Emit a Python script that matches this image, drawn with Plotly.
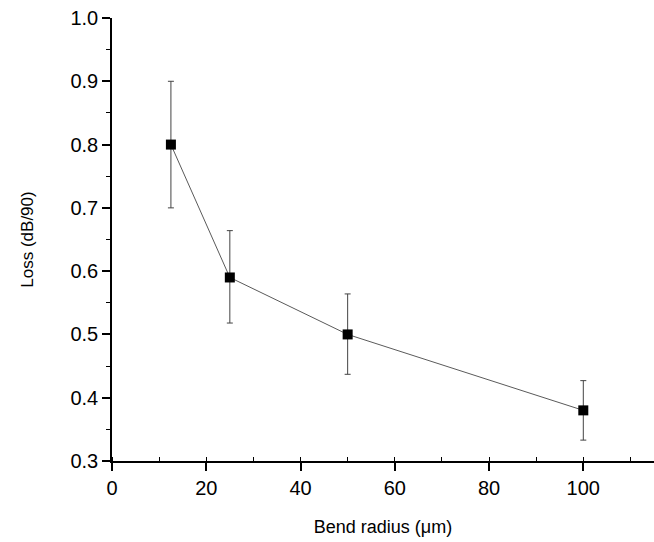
import plotly.graph_objects as go

bend_radius = [12.5, 25, 50, 100]
loss = [0.80, 0.59, 0.50, 0.38]
err_plus = [0.10, 0.074, 0.064, 0.047]
err_minus = [0.10, 0.072, 0.063, 0.047]

x_ticks = [0, 20, 40, 60, 80, 100]
y_ticks = [0.3, 0.4, 0.5, 0.6, 0.7, 0.8, 0.9, 1.0]
y_tick_text = ["0.3", "0.4", "0.5", "0.6", "0.7", "0.8", "0.9", "1.0"]

font_family = "Liberation Sans, Arial, sans-serif"

fig = go.Figure()
fig.add_trace(go.Scatter(
    x=bend_radius, y=loss,
    mode="lines+markers",
    line=dict(color="#5a5a5a", width=1),
    marker=dict(symbol="square", size=10, color="black"),
    error_y=dict(type="data", symmetric=False, array=err_plus, arrayminus=err_minus,
                 color="#444444", thickness=1, width=3),
    showlegend=False,
))

fig.update_layout(
    width=654, height=542,
    margin=dict(l=112, r=0, t=18, b=81, autoexpand=False),
    paper_bgcolor="white", plot_bgcolor="white",
    font=dict(family=font_family, color="black"),
)
fig.update_xaxes(
    range=[0, 115], tickvals=x_ticks,
    showline=True, linecolor="black", linewidth=1.5,
    ticks="outside", ticklen=8, tickwidth=1.5, tickcolor="black",
    minor=dict(ticks="inside", ticklen=4, dtick=10, tickcolor="black", tickwidth=1),
    showgrid=False, zeroline=False, automargin=False,
    tickfont=dict(size=20),
    title=dict(text="Bend radius (μm)", font=dict(size=18), standoff=23),
)
fig.update_yaxes(
    range=[0.3, 1.0], tickvals=y_ticks, ticktext=y_tick_text,
    showline=True, linecolor="black", linewidth=1.5,
    ticks="outside", ticklen=8, tickwidth=1.5, tickcolor="black",
    minor=dict(ticks="outside", ticklen=4, dtick=0.05, tickcolor="black", tickwidth=1),
    showgrid=False, zeroline=False, automargin=False,
    tickfont=dict(size=20),
    title=dict(text="Loss (dB/90)", font=dict(size=17), standoff=32),
)

fig.write_html("out.html", config={"displayModeBar": False},
               post_script="document.body.style.margin='0';document.body.style.overflow='hidden';")
